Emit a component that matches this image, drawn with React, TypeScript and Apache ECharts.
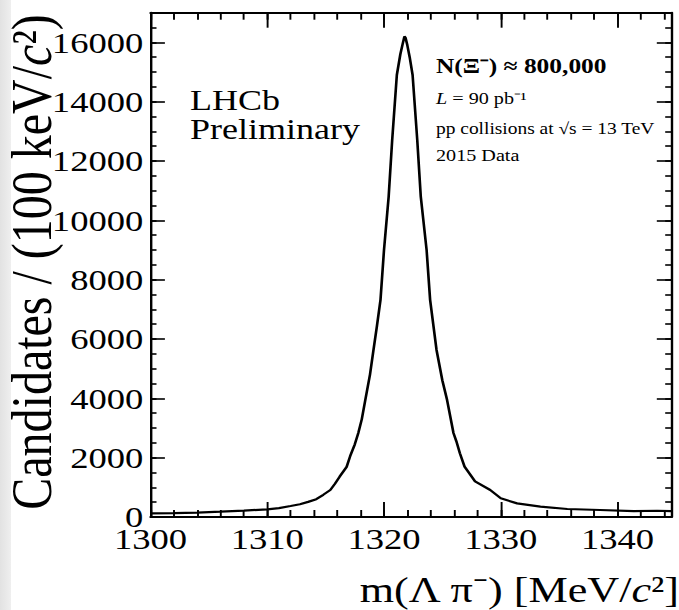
import React, { useEffect, useRef } from "react";
import * as echarts from "echarts";

// Reference picture is horizontally stretched; we draw at a narrower width and stretch back.
const S = 1.2;
const W = 679;
const H = 610;
const IW = W / S;

const X_MIN = 1300;
const X_MAX = 1344.6;
const X_MAJOR = 10;
const X_MINOR = 2;
const Y_MIN = 0;
const Y_MAX = 17000;
const Y_MAJOR = 2000;
const Y_MINOR = 500;

const masses = [
  1300, 1302, 1304, 1306, 1308, 1310, 1311, 1312, 1312.8, 1313.5, 1314.2, 1314.8,
  1315.4, 1315.8, 1316.2, 1316.8, 1317.1, 1317.5, 1317.8, 1318.1, 1318.4, 1318.8,
  1319.1, 1319.4, 1319.7, 1320.0, 1320.4, 1320.7, 1321.1, 1321.4, 1321.6, 1321.75,
  1321.85, 1322.0, 1322.2, 1322.45, 1322.85, 1323.15, 1323.65, 1323.95, 1324.5,
  1325.0, 1325.4, 1325.95, 1326.2, 1326.5, 1326.9, 1327.8, 1329.1, 1330.0, 1331.4,
  1333.4, 1335.7, 1338.5, 1341.4, 1343.4, 1344.6,
];
const counts = [
  120, 130, 150, 180, 215, 260, 300, 370, 430, 510, 600, 750,
  910, 1120, 1360, 1690, 2050, 2450, 2830, 3300, 3950, 4800,
  5630, 6450, 7320, 9000, 10800, 12700, 14900, 15600, 15950, 16200,
  16150, 15900, 15500, 14900, 12700, 10800, 9000, 7320, 5630,
  4600, 3950, 2830, 2550, 2150, 1700, 1200, 910, 630, 460,
  350, 270, 236, 200, 210, 200,
];

const FONT = "'Liberation Serif', 'Times New Roman', serif";

export default function App() {
  const ref = useRef<HTMLDivElement>(null);

  useEffect(() => {
    if (!ref.current) return;
    const chart = echarts.init(ref.current, null, { renderer: "svg" });
    const black = "#000";
    const label = (show: boolean, margin: number) => ({
      show,
      showMaxLabel: false,
      margin,
      color: black,
      fontFamily: FONT,
      fontSize: 30.5,
      formatter: (v: number) => String(v),
    });
    const frameX = (pos: string, interval: number, len: number, labels: boolean, line: boolean) => ({
      type: "value",
      min: X_MIN,
      max: X_MAX,
      interval,
      position: pos,
      axisLine: { show: line, onZero: false, lineStyle: { color: black, width: 2 } },
      axisTick: { show: true, inside: true, length: len, lineStyle: { color: black, width: 1.6 } },
      axisLabel: label(labels, 6),
      splitLine: { show: false },
    });
    const frameY = (pos: string, interval: number, len: number, labels: boolean, line: boolean) => ({
      type: "value",
      min: Y_MIN,
      max: Y_MAX,
      interval,
      position: pos,
      axisLine: { show: line, onZero: false, lineStyle: { color: black, width: 2 } },
      axisTick: { show: true, inside: true, length: len, lineStyle: { color: black, width: 1.6 } },
      axisLabel: label(labels, 6),
      splitLine: { show: false },
    });

    const n = { fontFamily: FONT, fontSize: 48, fill: black, color: black };
    const it = { ...n, fontStyle: "italic" };
    const nx = { fontFamily: FONT, fontSize: 36.8, fill: black, color: black };
    const itx = { ...nx, fontStyle: "italic" };
    const sm = { fontFamily: FONT, fontSize: 16.8, fill: black, color: black };
    const smi = { ...sm, fontStyle: "italic" };

    const txt = (x: number, y: number, text: string, extra: any) => ({
      type: "text",
      x,
      y,
      silent: true,
      style: {
        text,
        fill: black,
        fontFamily: FONT,
        align: "left",
        textAlign: "left",
        verticalAlign: "middle",
        textVerticalAlign: "middle",
        ...extra,
      },
    });

    chart.setOption({
      animation: false,
      backgroundColor: "#fff",
      grid: {
        left: 150.5 / S,
        right: (W - 671) / S,
        top: 12.7,
        bottom: H - 517,
        containLabel: false,
      },
      xAxis: [
        frameX("bottom", X_MAJOR, 15, true, true),
        frameX("bottom", X_MINOR, 7, false, false),
        frameX("top", X_MAJOR, 15, false, true),
        frameX("top", X_MINOR, 7, false, false),
      ],
      yAxis: [
        frameY("left", Y_MAJOR, 12, true, true),
        frameY("left", Y_MINOR, 5, false, false),
        frameY("right", Y_MAJOR, 12, false, true),
        frameY("right", Y_MINOR, 5, false, false),
      ],
      series: [
        {
          type: "line",
          xAxisIndex: 0,
          yAxisIndex: 0,
          data: masses.map((m, i) => [m, counts[i]]),
          showSymbol: false,
          symbol: "none",
          lineStyle: { color: black, width: 2.2 },
          clip: true,
          z: 5,
        },
      ],
      graphic: [
        {
          type: "rect",
          shape: { x: 0, y: 0, width: 11 / S, height: H },
          silent: true,
          style: {
            fill: new echarts.graphic.LinearGradient(0, 0, 1, 0, [
              { offset: 0, color: "#e2e2e2" },
              { offset: 1, color: "#efefef" },
            ]),
          },
        },
        {
          type: "text",
          x: 26.5,
          y: 262,
          rotation: Math.PI / 2,
          silent: true,
          style: {
            text: "{n|Candidates / (100 keV/}{i|c}{n|²)}",
            rich: { n, i: it },
            fill: black,
            fontFamily: FONT,
            fontSize: 48,
            align: "center",
            textAlign: "center",
            verticalAlign: "middle",
            textVerticalAlign: "middle",
          },
        },
        {
          type: "text",
          x: 679 / S,
          y: 590,
          silent: true,
          style: {
            text: "{n|m(Λ π⁻) [MeV/}{i|c}{n|²]}",
            rich: { n: nx, i: itx },
            fill: black,
            fontFamily: FONT,
            fontSize: 36.8,
            align: "right",
            textAlign: "right",
            verticalAlign: "middle",
            textVerticalAlign: "middle",
          },
        },
        txt(190 / S, 100, "LHCb", { fontSize: 30, lineHeight: 27 }),
        txt(190 / S, 129, "Preliminary", { fontSize: 30, lineHeight: 27 }),
        txt(436 / S, 65.5, "N(Ξ⁻) ≈ 800,000", { fontSize: 21.2, fontWeight: "bold" }),
        {
          type: "text",
          x: 436 / S,
          y: 98.3,
          silent: true,
          style: {
            text: "{i|L}{n| = 90 pb⁻¹}",
            rich: { n: sm, i: smi },
            fill: black,
            fontFamily: FONT,
            fontSize: 16.8,
            align: "left",
            textAlign: "left",
            verticalAlign: "middle",
            textVerticalAlign: "middle",
          },
        },
        txt(436 / S, 128.3, "pp collisions at √s = 13 TeV", { fontSize: 16.2 }),
        txt(436 / S, 155.3, "2015 Data", { fontSize: 16.8 }),
      ],
    } as any);

    return () => chart.dispose();
  }, []);

  return (
    <div
      style={{
        position: "absolute",
        left: 0,
        top: 0,
        width: W,
        height: H,
        overflow: "hidden",
        background: "#fff",
      }}
    >
      <div
        ref={ref}
        style={{
          width: IW,
          height: H,
          transform: `scaleX(${S})`,
          transformOrigin: "0 0",
        }}
      />
    </div>
  );
}
